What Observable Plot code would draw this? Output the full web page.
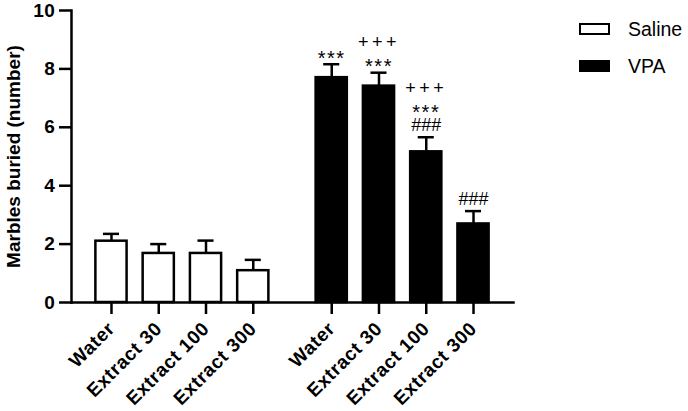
<!DOCTYPE html>
<html>
<head>
<meta charset="utf-8">
<script src="https://cdn.jsdelivr.net/npm/d3@7"></script>
<script src="https://cdn.jsdelivr.net/npm/@observablehq/plot@0.6"></script>
<style>
  html, body { margin: 0; padding: 0; background: white; }
  #wrap { position: relative; width: 688px; height: 411px; font-family: 'Liberation Sans', Arial, sans-serif; }
  .lg-box { position: absolute; left: 579px; width: 31px; height: 12px; box-sizing: border-box; border: 2.5px solid black; }
  .lg-text { position: absolute; left: 628px; font-size: 19.5px; line-height: 20px; color: black; }
  svg g[aria-label="x-axis tick label"] text, svg g[aria-label="y-axis tick label"] text { letter-spacing: 0.6px; }
</style>
</head>
<body>
<div id="wrap"></div>
<script>
// ---- data ----
const groups = ["Saline", "VPA"];
const doses = ["Water", "Extract 30", "Extract 100", "Extract 300"];
const salineMean = [2.10, 1.68, 1.68, 1.09];
const salineSem  = [0.25, 0.32, 0.44, 0.37];
const vpaMean    = [7.70, 7.41, 5.16, 2.69];
const vpaSem     = [0.46, 0.46, 0.50, 0.44];
const yTicks = [0, 2, 4, 6, 8, 10];
// significance marks per VPA bar, listed from bottom to top
const vpaMarks = [["***"], ["***", "+++"], ["###", "***", "+++"], ["###"]];

// ---- layout helpers (not data) ----
const groupGap = 0.66;      // extra space between the two groups, in bar steps
const halfBar = 0.33;
const halfCap = 0.17;
const levelOffset = [12, 30.5, 49];
const glyphStyle = {
  "***": {shift: 6, size: 20, spacing: 1.5},
  "+++": {shift: 0, size: 18, spacing: 3.5},
  "###": {shift: 0.5, size: 18, spacing: 0}
};

const rows = [];
groups.forEach((g, gi) => {
  const means = gi === 0 ? salineMean : vpaMean;
  const sems = gi === 0 ? salineSem : vpaSem;
  doses.forEach((d, i) => {
    rows.push({group: g, dose: d, mean: means[i], sem: sems[i],
               pos: i + gi * (doses.length + groupGap)});
  });
});
const vpaRows = rows.filter(r => r.group === "VPA");
const notes = [];
vpaMarks.forEach((list, i) => list.forEach((sym, level) =>
  notes.push({pos: vpaRows[i].pos, top: vpaRows[i].mean + vpaRows[i].sem, sym, level})));

const labelOf = new Map(rows.map(r => [r.pos, r.dose]));
const tickPos = rows.map(r => r.pos);
const first = tickPos[0], last = tickPos[tickPos.length - 1];

const chart = Plot.plot({
  width: 688,
  height: 411,
  marginLeft: 71,
  marginRight: 175,
  marginTop: 10,
  marginBottom: 109,
  style: {fontFamily: "'Liberation Sans', Arial, sans-serif", fontSize: "19px", fontWeight: "bold", color: "black", background: "transparent", overflow: "visible"},
  x: {type: "linear", domain: [first - 0.846, last + 0.846]},
  y: {domain: [0, 10]},
  color: {domain: groups, range: ["white", "black"]},
  marks: [
    Plot.ruleX(rows, {x: "pos", y1: "mean", y2: d => d.mean + d.sem, stroke: "black", strokeWidth: 2.5}),
    Plot.ruleY(rows, {y: d => d.mean + d.sem, x1: d => d.pos - halfCap, x2: d => d.pos + halfCap, stroke: "black", strokeWidth: 2.5}),
    Plot.rectY(rows, {x1: d => d.pos - halfBar, x2: d => d.pos + halfBar, y: "mean", fill: "group", stroke: "black", strokeWidth: 2.5}),
    ...notes.map(n => {
      const s = glyphStyle[n.sym];
      return Plot.text([n], {x: "pos", y: "top", text: "sym", fontSize: s.size, fontWeight: "normal",
        fill: "black", textAnchor: "middle", dy: -levelOffset[n.level] + s.shift,
        render: (index, scales, values, dims, ctx, next) => {
          const g = next(index, scales, values, dims, ctx);
          g.querySelectorAll("text").forEach(t => t.setAttribute("letter-spacing", s.spacing));
          return g;
        }});
    }),
    Plot.frame({anchor: "left", stroke: "black", strokeWidth: 2.5}),
    Plot.frame({anchor: "bottom", stroke: "black", strokeWidth: 2.5}),
    Plot.axisY({ticks: yTicks, tickSize: 12, tickPadding: 4, strokeWidth: 2.5, tickFormat: d => String(d),
      label: "Marbles buried (number)", labelAnchor: "center", labelArrow: "none", labelOffset: 65}),
    Plot.axisX({ticks: tickPos, tickFormat: p => labelOf.get(p), tickSize: 12, tickPadding: 11, strokeWidth: 2.5,
      tickRotate: -45, label: null})
  ]
});
const wrap = document.getElementById("wrap");
wrap.appendChild(chart);

// legend
groups.forEach((g, i) => {
  const box = document.createElement("div");
  box.className = "lg-box";
  box.style.top = (i === 0 ? 23 : 60) + "px";
  box.style.background = i === 0 ? "white" : "black";
  wrap.appendChild(box);
  const t = document.createElement("div");
  t.className = "lg-text";
  t.style.top = (i === 0 ? 19 : 56) + "px";
  t.textContent = g;
  wrap.appendChild(t);
});
</script>
</body>
</html>
